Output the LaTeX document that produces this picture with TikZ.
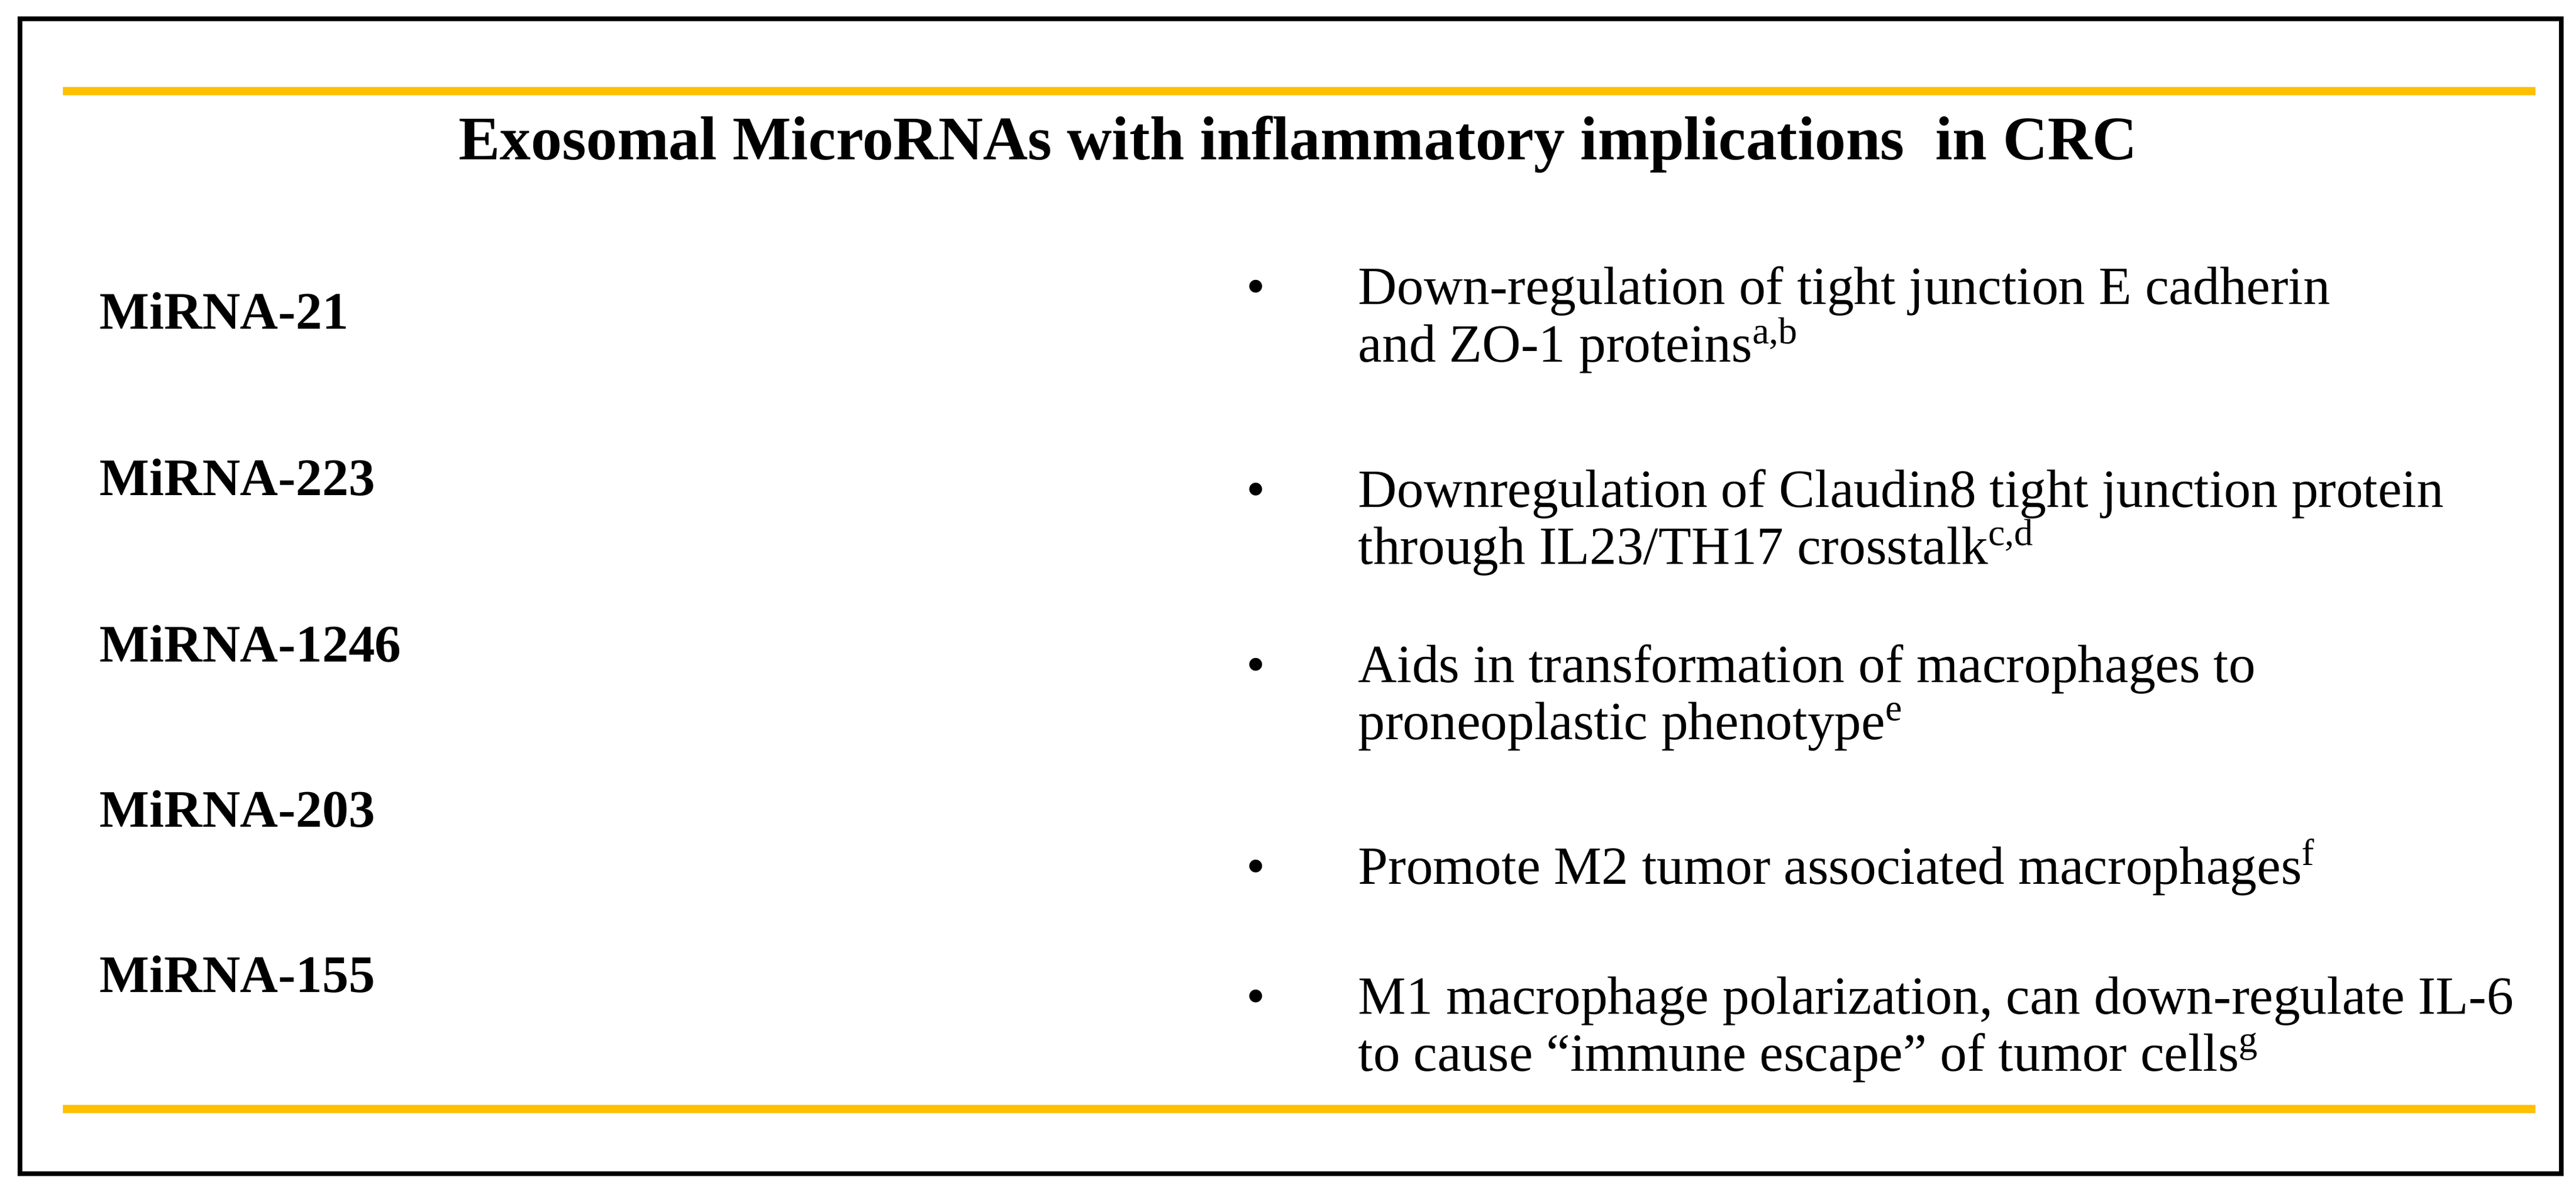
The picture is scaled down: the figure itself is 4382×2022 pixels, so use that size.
\documentclass[tikz,border=0pt]{standalone}
\usepackage{fontspec}
\setmainfont{Liberation Serif}
\definecolor{gold}{RGB}{255,192,0}
\tikzset{
  lbl/.style={anchor=base west,inner sep=0pt,font=\fontsize{25.5}{30}\selectfont\bfseries},
  txt/.style={anchor=base west,inner sep=0pt,font=\fontsize{26}{30}\selectfont},
  goldline/.style={draw=gold,line width=4pt},
}
\begin{document}
\begin{tikzpicture}[x=0.01cm,y=-0.01cm]
\useasboundingbox (0,0) rectangle (4382,2022);
\draw[line width=2.2pt] (34,32) rectangle (4357,1996);
\coordinate (g1a) at (107,155); \coordinate (g1b) at (4313,155);
\coordinate (g2a) at (107,1886); \coordinate (g2b) at (4313,1886);
\draw[goldline] (g1a) -- (g1b);
\draw[goldline] (g2a) -- (g2b);
\node[anchor=base,inner sep=0pt,font=\fontsize{30}{34}\selectfont\bfseries] (title) at (2208,272) {Exosomal MicroRNAs with inflammatory implications\ \ in CRC};
\node[lbl] (m1) at (169,560) {MiRNA-21};
\node[lbl] (m2) at (169,842) {MiRNA-223};
\node[lbl] (m3) at (169,1125) {MiRNA-1246};
\node[lbl] (m4) at (169,1406) {MiRNA-203};
\node[lbl] (m5) at (169,1687) {MiRNA-155};
\foreach \y/\n in {518/b1,862/b2,1160/b3,1503/b4,1724/b5}
  \node[txt] (\n) at (2120,\y) {•};
\node[txt] (t1a) at (2310,518) {Down-regulation of tight junction E cadherin};
\node[txt] (t1b) at (2310,616) {and ZO-1 proteins\textsuperscript{a,b}};
\node[txt] (t2a) at (2310,862) {Downregulation of Claudin8 tight junction protein};
\node[txt] (t2b) at (2310,959) {through IL23/TH17 crosstalk\textsuperscript{c,d}};
\node[txt] (t3a) at (2310,1160) {Aids in transformation of macrophages to};
\node[txt] (t3b) at (2310,1257) {proneoplastic phenotype\textsuperscript{e}};
\node[txt] (t4a) at (2310,1503) {Promote M2 tumor associated macrophages\textsuperscript{f}};
\node[txt] (t5a) at (2310,1724) {M1 macrophage polarization, can down-regulate IL-6};
\node[txt] (t5b) at (2310,1821) {to cause “immune escape” of tumor cells\textsuperscript{g}};
\end{tikzpicture}
\end{document}
